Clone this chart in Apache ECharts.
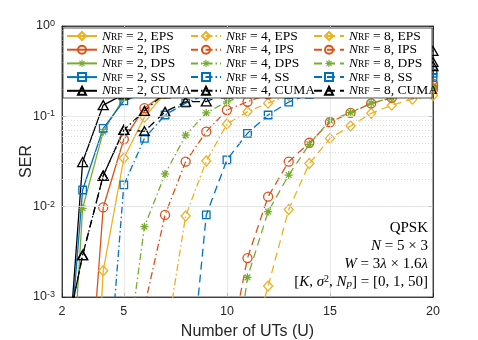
<!DOCTYPE html>
<html><head><meta charset="utf-8">
<script src="https://cdn.jsdelivr.net/npm/echarts@6/dist/echarts.min.js"></script>
<style>html,body{margin:0;padding:0;background:#fff}#c{width:478px;height:340px}</style>
</head><body><div id="c"></div>
<script>
// ---------- data ----------
const xValues = [2,3,4,5,6,7,8,9,10,11,12,13,14,15,16,17,18,19,20];
const xTickValues = [2,5,10,15,20];
const yMinorGrid = [0.002,0.003,0.004,0.005,0.006,0.007,0.008,0.009,0.02,0.03,0.04,0.05,0.06,0.07,0.08,0.09,0.2,0.3,0.4,0.5,0.6,0.7,0.8,0.9];
const yMajorGrid = [0.01,0.1];
const xMajorGrid = [5,10,15];
const nrfList = [2,4,8];
const methods = ['EPS','IPS','DPS','SS','CUMA'];

const nrf2_EPS  = [1e-9,1.3e-7,0.00195,0.0343,0.098,0.18,0.19,0.195,0.2,0.2,0.2,0.205,0.205,0.21,0.21,0.21,0.21,0.21,0.21];
const nrf2_IPS  = [1e-8,8e-6,0.0098,0.0557,0.123,0.18,0.19,0.195,0.2,0.205,0.21,0.21,0.215,0.22,0.22,0.22,0.225,0.23,0.23];
const nrf2_DPS  = [1.6e-6,0.0096,0.0676,0.16,0.18,0.19,0.195,0.2,0.2,0.205,0.205,0.21,0.21,0.21,0.21,0.215,0.215,0.215,0.215];
const nrf2_SS   = [2.3e-5,0.0153,0.0737,0.148,0.18,0.2,0.215,0.23,0.24,0.25,0.26,0.27,0.28,0.29,0.295,0.3,0.31,0.315,0.32];
const nrf2_CUMA = [2.4e-5,0.0312,0.133,0.175,0.2,0.23,0.26,0.29,0.31,0.33,0.36,0.38,0.4,0.42,0.44,0.46,0.48,0.5,0.53];

const nrf4_EPS  = [1e-9,1e-8,1e-7,1e-6,1e-5,2.95e-4,0.0079,0.032,0.0822,0.1125,0.14,0.17,0.18,0.185,0.19,0.195,0.2,0.2,0.205];
const nrf4_IPS  = [1e-8,1e-7,1e-6,1e-5,7.8e-4,0.0081,0.0315,0.0676,0.1175,0.145,0.175,0.185,0.19,0.2,0.205,0.21,0.215,0.22,0.22];
const nrf4_DPS  = [1e-7,1e-6,1e-5,1.2e-4,0.006,0.023,0.062,0.109,0.145,0.175,0.185,0.19,0.2,0.205,0.21,0.21,0.215,0.215,0.215];
const nrf4_SS   = [1e-7,1e-6,2.3e-5,0.0174,0.057,0.1035,0.14,0.175,0.19,0.2,0.215,0.23,0.24,0.25,0.26,0.27,0.28,0.29,0.3];
const nrf4_CUMA = [2.3e-4,0.0029,0.022,0.0706,0.115,0.18,0.2,0.22,0.24,0.26,0.28,0.3,0.31,0.32,0.34,0.35,0.37,0.38,0.4];

const nrf8_EPS  = [1e-11,1e-10,1e-9,1e-8,1e-7,1e-6,1e-5,2e-5,5e-5,2.0e-4,0.00132,0.0093,0.03,0.057,0.078,0.108,0.133,0.155,0.17];
const nrf8_IPS  = [1e-10,1e-9,1e-8,1e-7,1e-6,1e-5,2e-5,5e-5,1.86e-4,0.0027,0.0129,0.0315,0.051,0.086,0.109,0.139,0.16,0.18,0.2];
const nrf8_DPS  = [1e-11,1e-10,1e-9,1e-8,1e-7,1e-6,1e-5,2e-5,3.5e-5,0.00165,0.0088,0.0224,0.049,0.09,0.11,0.14,0.16,0.18,0.2];
const nrf8_SS   = [1e-10,1e-9,1e-8,1e-7,1e-6,1e-5,3.8e-5,0.0081,0.0329,0.0649,0.1035,0.144,0.175,0.19,0.21,0.225,0.24,0.255,0.27];
const nrf8_CUMA = [2.3e-4,0.0029,0.022,0.0706,0.0685,0.112,0.145,0.146,0.18,0.2,0.22,0.24,0.26,0.28,0.3,0.32,0.34,0.36,0.36];

const seriesData = {
  2:{EPS:nrf2_EPS,IPS:nrf2_IPS,DPS:nrf2_DPS,SS:nrf2_SS,CUMA:nrf2_CUMA},
  4:{EPS:nrf4_EPS,IPS:nrf4_IPS,DPS:nrf4_DPS,SS:nrf4_SS,CUMA:nrf4_CUMA},
  8:{EPS:nrf8_EPS,IPS:nrf8_IPS,DPS:nrf8_DPS,SS:nrf8_SS,CUMA:nrf8_CUMA}
};

// ---------- styles ----------
const colors = {EPS:'#EDB120', IPS:'#D95319', DPS:'#77AC30', SS:'#0072BD', CUMA:'#000000'};
const dashes = {2:'solid', 4:[7,3,1.5,3], 8:[8,5]};
function asteriskPath(){
  const c=10, L=9, w=1.4, parts=[];
  [0,45,90,135].forEach(a=>{
    const r=a*Math.PI/180, dx=Math.cos(r), dy=Math.sin(r), nx=-dy, ny=dx;
    const p=[[c-L*dx+w*nx,c-L*dy+w*ny],[c-L*dx-w*nx,c-L*dy-w*ny],[c+L*dx-w*nx,c+L*dy-w*ny],[c+L*dx+w*nx,c+L*dy+w*ny]];
    let area=0; for(let i=0;i<4;i++){const a1=p[i],b1=p[(i+1)%4]; area+=a1[0]*b1[1]-b1[0]*a1[1];}
    if(area<0) p.reverse();
    parts.push('M'+p.map(q=>q[0].toFixed(2)+','+q[1].toFixed(2)).join(' L')+' Z');
  });
  return 'path://M0,0 M20,20 '+parts.join(' ');
}
const symbols = {EPS:'diamond', IPS:'circle', DPS:asteriskPath(), SS:'rect', CUMA:'triangle'};
const symSizes = {EPS:[9,10], IPS:9, DPS:9, SS:7.5, CUMA:[10,9]};
const AX = '#262626';
const SANS = 'Liberation Sans';
const SERIF = 'Liberation Serif';

const series = [];
series.push({
  type:'line', name:'_grid', data:[[2,0.5]], symbol:'none', lineStyle:{width:0}, silent:true, z:1,
  markLine:{silent:true, symbol:['none','none'], label:{show:false}, animation:false,
    data:[
      ...yMinorGrid.map(v=>({yAxis:v, lineStyle:{type:[1,2], color:'#cfcfcf', width:0.8}})),
      ...yMajorGrid.map(v=>({yAxis:v, lineStyle:{type:'solid', color:'#e3e3e3', width:0.8}})),
      ...xMajorGrid.map(v=>({xAxis:v, lineStyle:{type:'solid', color:'#e3e3e3', width:0.8}}))
    ]}
});
nrfList.forEach(n=>{
  methods.forEach(m=>{
    const arr = seriesData[n][m];
    const c = colors[m];
    series.push({
      type:'line', name:n+'|'+m,
      data: xValues.map((x,i)=>[x, arr[i]]),
      symbol: symbols[m], symbolSize: symSizes[m], showSymbol:true, showAllSymbol:true,
      clip:true, z:3,
      lineStyle:{color:c, width:1.3, type:dashes[n]},
      itemStyle:{color: m==='DPS'? c : 'rgba(0,0,0,0)', borderColor:c, borderWidth: m==='DPS'?0:1.3},
      emphasis:{disabled:true}
    });
  });
});

const LF = 13.5;
const legendRich = {
  i:{fontFamily:SERIF, fontStyle:'italic', fontSize:LF, lineHeight:12, color:'#000', verticalAlign:'middle'},
  s:{fontFamily:SERIF, fontSize:9.5, lineHeight:3, color:'#000', verticalAlign:'bottom'},
  t:{fontFamily:SERIF, fontSize:LF, lineHeight:12, color:'#000', verticalAlign:'middle'}
};
const legends = [0,1,2].map(ci=>({
  orient:'vertical', left:[66,190,313][ci], top:29,
  itemWidth:30, itemHeight:10, itemGap:-0.3, padding:0,
  selectedMode:false, zlevel:1, z:10,
  data: methods.map(m=>nrfList[ci]+'|'+m),
  formatter: name=>{const [n,m]=name.split('|'); return '{i|N}{s|RF}{t| = '+n+', '+m+'}';},
  textStyle:{rich:legendRich, fontFamily:SERIF, fontSize:LF}
}));

const annRich = {
  i:{fontFamily:SERIF, fontStyle:'italic', fontSize:15, fill:'#000'},
  sup:{fontFamily:SERIF, fontSize:10, fill:'#000', verticalAlign:'top', lineHeight:8},
  sub:{fontFamily:SERIF, fontStyle:'italic', fontSize:11, fill:'#000', verticalAlign:'bottom', lineHeight:10}
};
const annLines = ['QPSK','{i|N} = 5 × 3','{i|W} = 3{i|λ} × 1.6{i|λ}','[{i|K}, {i|σ}{sup|2}, {i|N}{sub|p}] = [0, 1, 50]'];
const annY = [228,246,264,282];

const supRich = {
  b:{fontFamily:SANS, fontSize:12.5, color:AX, lineHeight:14, verticalAlign:'middle'},
  s:{fontFamily:SANS, fontSize:9, color:AX, lineHeight:7, verticalAlign:'top'}
};

const option = {
  animation:false,
  backgroundColor:'#fff',
  grid:{left:62, right:45, top:26, bottom:43, show:true, borderColor:AX, borderWidth:0.8, backgroundColor:'#fff',
        containLabel:false, outerBoundsMode:'none'},
  xAxis:[{
    type:'value', min:2, max:20,
    axisLine:{show:true, lineStyle:{color:AX, width:0.8}},
    axisTick:{show:true, inside:true, length:4, customValues:xTickValues, lineStyle:{color:AX}},
    axisLabel:{customValues:xTickValues, fontFamily:SANS, fontSize:12.5, color:AX, margin:8},
    splitLine:{show:false},
    name:'Number of UTs (U)', nameLocation:'middle', nameGap:27, nameMoveOverlap:false,
    nameTextStyle:{fontFamily:SANS, fontSize:16, color:AX}
  },{
    type:'value', min:2, max:20, position:'top',
    axisLine:{show:true, lineStyle:{color:AX, width:0.8}},
    axisTick:{show:true, inside:true, length:4, customValues:xTickValues, lineStyle:{color:AX}},
    axisLabel:{show:false}, splitLine:{show:false}
  }],
  yAxis:[{
    type:'log', logBase:10, min:0.001, max:1,
    axisLine:{show:true, lineStyle:{color:AX, width:0.8}},
    axisTick:{show:true, inside:true, length:4, lineStyle:{color:AX}},
    axisLabel:{fontFamily:SANS, fontSize:12.5, color:AX, margin:7,
      formatter:v=>'{b|10}{s|'+Math.round(Math.log10(v))+'}', rich:supRich},
    splitLine:{show:false},
    name:'SER', nameLocation:'middle', nameGap:27, nameMoveOverlap:false,
    nameTextStyle:{fontFamily:SANS, fontSize:16, color:AX}
  },{
    type:'log', logBase:10, min:0.001, max:1, position:'right',
    axisLine:{show:true, lineStyle:{color:AX, width:0.8}},
    axisTick:{show:true, inside:true, length:4, lineStyle:{color:AX}},
    axisLabel:{show:false}, splitLine:{show:false}
  }],
  legend: legends,
  graphic:[
    {type:'rect', zlevel:1, z:1, shape:{x:63, y:28, width:369, height:70}, style:{fill:'#fff', stroke:AX, lineWidth:0.8}},
    ...annLines.map((t,k)=>({type:'text', zlevel:1, z:2, style:{text:t, x:428, y:annY[k], align:'right', verticalAlign:'middle',
      font:'15px "'+SERIF+'"', fill:'#000', rich:annRich}}))
  ],
  series: series
};
const chart = echarts.init(document.getElementById('c'), null, {renderer:'canvas'});
chart.setOption(option);
</script></body></html>
